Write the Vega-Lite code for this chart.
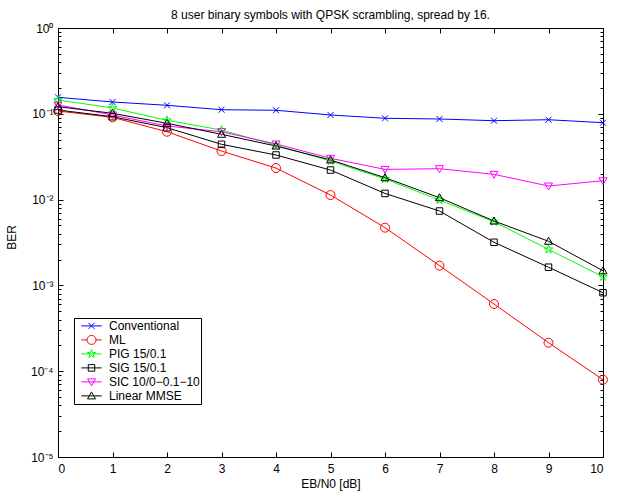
{
  "$schema": "https://vega.github.io/schema/vega-lite/v6.json",
  "width": 545,
  "height": 429,
  "autosize": {"type": "none"},
  "padding": {"left": 58, "top": 28, "right": 14, "bottom": 37},
  "background": "white",
  "title": {"text": "8 user binary symbols with QPSK scrambling, spread by 16.", "fontSize": 12, "fontWeight": "normal", "font": "Liberation Sans", "color": "black", "offset": 0, "anchor": "middle"},
  "config": {
    "view": {"stroke": "black", "strokeWidth": 1},
    "axis": {"grid": false, "domainColor": "black", "tickColor": "black", "labelColor": "black", "titleColor": "black", "labelFont": "Liberation Sans", "titleFont": "Liberation Sans", "labelFontSize": 12, "titleFontSize": 12, "titleFontWeight": "normal", "domainWidth": 1, "tickWidth": 1}
  },
  "data": {"values": [
    {"s": "Conventional", "x": 0, "ber": 0.1557}, {"s": "Conventional", "x": 1, "ber": 0.1373}, {"s": "Conventional", "x": 2, "ber": 0.1256}, {"s": "Conventional", "x": 3, "ber": 0.1116}, {"s": "Conventional", "x": 4, "ber": 0.1099}, {"s": "Conventional", "x": 5, "ber": 0.0969}, {"s": "Conventional", "x": 6, "ber": 0.0887}, {"s": "Conventional", "x": 7, "ber": 0.0870}, {"s": "Conventional", "x": 8, "ber": 0.0831}, {"s": "Conventional", "x": 9, "ber": 0.0853}, {"s": "Conventional", "x": 10, "ber": 0.0788},
    {"s": "ML", "x": 0, "ber": 0.1078}, {"s": "ML", "x": 1, "ber": 0.0910}, {"s": "ML", "x": 2, "ber": 0.0618}, {"s": "ML", "x": 3, "ber": 0.0368}, {"s": "ML", "x": 4, "ber": 0.0233}, {"s": "ML", "x": 5, "ber": 0.0113}, {"s": "ML", "x": 6, "ber": 0.00471}, {"s": "ML", "x": 7, "ber": 0.00170}, {"s": "ML", "x": 8, "ber": 0.000607}, {"s": "ML", "x": 9, "ber": 0.000215}, {"s": "ML", "x": 10, "ber": 0.0000796},
    {"s": "PIG 15/0.1", "x": 0, "ber": 0.1448}, {"s": "PIG 15/0.1", "x": 1, "ber": 0.1169}, {"s": "PIG 15/0.1", "x": 2, "ber": 0.0840}, {"s": "PIG 15/0.1", "x": 3, "ber": 0.0647}, {"s": "PIG 15/0.1", "x": 4, "ber": 0.0429}, {"s": "PIG 15/0.1", "x": 5, "ber": 0.0282}, {"s": "PIG 15/0.1", "x": 6, "ber": 0.0174}, {"s": "PIG 15/0.1", "x": 7, "ber": 0.00989}, {"s": "PIG 15/0.1", "x": 8, "ber": 0.00552}, {"s": "PIG 15/0.1", "x": 9, "ber": 0.00263}, {"s": "PIG 15/0.1", "x": 10, "ber": 0.00126},
    {"s": "SIG 15/0.1", "x": 0, "ber": 0.1107}, {"s": "SIG 15/0.1", "x": 1, "ber": 0.0925}, {"s": "SIG 15/0.1", "x": 2, "ber": 0.0689}, {"s": "SIG 15/0.1", "x": 3, "ber": 0.0441}, {"s": "SIG 15/0.1", "x": 4, "ber": 0.0331}, {"s": "SIG 15/0.1", "x": 5, "ber": 0.0221}, {"s": "SIG 15/0.1", "x": 6, "ber": 0.0118}, {"s": "SIG 15/0.1", "x": 7, "ber": 0.00736}, {"s": "SIG 15/0.1", "x": 8, "ber": 0.00318}, {"s": "SIG 15/0.1", "x": 9, "ber": 0.00163}, {"s": "SIG 15/0.1", "x": 10, "ber": 0.000822},
    {"s": "SIC 10/0−0.1−10", "x": 0, "ber": 0.1267}, {"s": "SIC 10/0−0.1−10", "x": 1, "ber": 0.0969}, {"s": "SIC 10/0−0.1−10", "x": 2, "ber": 0.0721}, {"s": "SIC 10/0−0.1−10", "x": 3, "ber": 0.0618}, {"s": "SIC 10/0−0.1−10", "x": 4, "ber": 0.0445}, {"s": "SIC 10/0−0.1−10", "x": 5, "ber": 0.0303}, {"s": "SIC 10/0−0.1−10", "x": 6, "ber": 0.0225}, {"s": "SIC 10/0−0.1−10", "x": 7, "ber": 0.0229}, {"s": "SIC 10/0−0.1−10", "x": 8, "ber": 0.0197}, {"s": "SIC 10/0−0.1−10", "x": 9, "ber": 0.0144}, {"s": "SIC 10/0−0.1−10", "x": 10, "ber": 0.0166},
    {"s": "Linear MMSE", "x": 0, "ber": 0.121}, {"s": "Linear MMSE", "x": 1, "ber": 0.1014}, {"s": "Linear MMSE", "x": 2, "ber": 0.0775}, {"s": "Linear MMSE", "x": 3, "ber": 0.0577}, {"s": "Linear MMSE", "x": 4, "ber": 0.0421}, {"s": "Linear MMSE", "x": 5, "ber": 0.0290}, {"s": "Linear MMSE", "x": 6, "ber": 0.0180}, {"s": "Linear MMSE", "x": 7, "ber": 0.01052}, {"s": "Linear MMSE", "x": 8, "ber": 0.00563}, {"s": "Linear MMSE", "x": 9, "ber": 0.00327}, {"s": "Linear MMSE", "x": 10, "ber": 0.00148}
  ]},
  "layer": [
    {
      "mark": {"type": "line", "strokeWidth": 1},
      "encoding": {
        "x": {"field": "x", "type": "quantitative", "scale": {"domain": [0, 10], "nice": false, "zero": false},
              "axis": {"orient": "bottom", "values": [0,1,2,3,4,5,6,7,8,9,10], "tickSize": -5, "labelPadding": 11, "title": "EB/N0 [dB]", "titlePadding": 4}},
        "y": {"field": "ber", "type": "quantitative", "scale": {"type": "log", "domain": [0.00001, 1], "nice": false},
              "axis": {"orient": "left", "values": [0.00001,0.00002,0.00003,0.00004,0.00005,0.00006,0.00007,0.00008,0.00009,0.0001,0.0002,0.0003,0.0004,0.0005,0.0006,0.0007,0.0008,0.0009,0.001,0.002,0.003,0.004,0.005,0.006,0.007,0.008,0.009,0.01,0.02,0.03,0.04,0.05,0.06,0.07,0.08,0.09,0.1,0.2,0.3,0.4,0.5,0.6,0.7,0.8,0.9,1],
                       "tickSize": {"condition": {"test": "abs(log(datum.value)/LN10 - round(log(datum.value)/LN10)) < 0.000001", "value": -5}, "value": -3},
                       "labelExpr": "abs(log(datum.value)/LN10 - round(log(datum.value)/LN10)) < 0.000001 ? '10' + ['⁰','⁻¹','⁻²','⁻³','⁻⁴','⁻⁵'][-round(log(datum.value)/LN10)] : ''",
                       "labelPadding": 10, "title": "BER", "titlePadding": 12, "titleY": 209}},
        "color": {"field": "s", "type": "nominal", "legend": null,
                  "scale": {"domain": ["Conventional", "ML", "PIG 15/0.1", "SIG 15/0.1", "SIC 10/0−0.1−10", "Linear MMSE"], "range": ["#0000ff", "#ff0000", "#00ff00", "#000000", "#ff00ff", "#000000"]}}
      }
    },
    {
      "mark": {"type": "point", "filled": false, "strokeWidth": 1, "size": 100, "opacity": 1},
      "encoding": {
        "x": {"field": "x", "type": "quantitative", "scale": {"domain": [0, 10], "nice": false, "zero": false},
              "axis": {"orient": "top", "values": [0,1,2,3,4,5,6,7,8,9,10], "tickSize": -5, "labels": false, "title": null}},
        "y": {"field": "ber", "type": "quantitative", "scale": {"type": "log", "domain": [0.00001, 1], "nice": false},
              "axis": {"orient": "right", "values": [0.00001,0.00002,0.00003,0.00004,0.00005,0.00006,0.00007,0.00008,0.00009,0.0001,0.0002,0.0003,0.0004,0.0005,0.0006,0.0007,0.0008,0.0009,0.001,0.002,0.003,0.004,0.005,0.006,0.007,0.008,0.009,0.01,0.02,0.03,0.04,0.05,0.06,0.07,0.08,0.09,0.1,0.2,0.3,0.4,0.5,0.6,0.7,0.8,0.9,1],
                       "tickSize": {"condition": {"test": "abs(log(datum.value)/LN10 - round(log(datum.value)/LN10)) < 0.000001", "value": -5}, "value": -3},
                       "labels": false, "title": null}},
        "color": {"field": "s", "type": "nominal", "legend": null,
                  "scale": {"domain": ["Conventional", "ML", "PIG 15/0.1", "SIG 15/0.1", "SIC 10/0−0.1−10", "Linear MMSE"], "range": ["#0000ff", "#ff0000", "#00ff00", "#000000", "#ff00ff", "#000000"]}},
        "shape": {"field": "s", "type": "nominal", "legend": null,
                  "scale": {"domain": ["Conventional", "ML", "PIG 15/0.1", "SIG 15/0.1", "SIC 10/0−0.1−10", "Linear MMSE"],
                            "range": ["M-0.6,-0.6L0.6,0.6M-0.6,0.6L0.6,-0.6", "M0.9,0A0.9,0.9 0 1,1 -0.9,0A0.9,0.9 0 1,1 0.9,0Z", "M0,-0.9L0.202,-0.278L0.856,-0.278L0.327,0.106L0.529,0.728L0,0.344L-0.529,0.728L-0.327,0.106L-0.856,-0.278L-0.202,-0.278Z", "M-0.65,-0.65H0.65V0.65H-0.65Z", "M-0.8,-0.6L0.8,-0.6L0,0.8Z", "M-0.8,0.6L0.8,0.6L0,-0.8Z"]}}
      }
    },
    {
      "transform": [{"filter": "false"}],
      "mark": {"type": "point", "filled": false, "strokeWidth": 1, "size": 1024, "opacity": 1},
      "encoding": {
        "color": {"field": "s", "type": "nominal",
                  "scale": {"domain": ["Conventional", "ML", "PIG 15/0.1", "SIG 15/0.1", "SIC 10/0−0.1−10", "Linear MMSE"], "range": ["#0000ff", "#ff0000", "#00ff00", "#000000", "#ff00ff", "#000000"]},
                  "legend": {"orient": "none", "legendX": 16, "legendY": 290, "title": null, "strokeColor": "black", "fillColor": "white", "padding": 1, "clipHeight": 13.8, "rowPadding": 0, "labelFont": "Liberation Sans", "labelFontSize": 12, "labelColor": "black", "symbolSize": 1024, "symbolStrokeWidth": 1, "labelOffset": 1, "cornerRadius": 0, "labelExpr": "datum.label + '   '"}},
        "shape": {"field": "s", "type": "nominal",
                  "scale": {"domain": ["Conventional", "ML", "PIG 15/0.1", "SIG 15/0.1", "SIC 10/0−0.1−10", "Linear MMSE"],
                            "range": ["M-0.634,0H0.634M-0.1875,-0.1875L0.1875,0.1875M-0.1875,0.1875L0.1875,-0.1875", "M-0.634,0H-0.281M0.281,0H0.634M0.281,0A0.281,0.281 0 1,1 -0.281,0A0.281,0.281 0 1,1 0.281,0Z", "M-0.634,0H0.634M0,-0.281L0.063,-0.087L0.2675,-0.087L0.102,0.033L0.165,0.2275L0,0.1075L-0.165,0.2275L-0.102,0.033L-0.2675,-0.087L-0.063,-0.087Z", "M-0.634,0H0.634M-0.203,-0.203H0.203V0.203H-0.203Z", "M-0.634,0H0.634M-0.25,-0.1875L0.25,-0.1875L0,0.25Z", "M-0.634,0H0.634M-0.25,0.1875L0.25,0.1875L0,-0.25Z"]},
                  "legend": {"orient": "none", "legendX": 16, "legendY": 290, "title": null, "strokeColor": "black", "fillColor": "white", "padding": 1, "clipHeight": 13.8, "rowPadding": 0, "labelFont": "Liberation Sans", "labelFontSize": 12, "labelColor": "black", "symbolSize": 1024, "symbolStrokeWidth": 1, "labelOffset": 1, "cornerRadius": 0, "labelExpr": "datum.label + '   '"}}
      }
    }
  ],
  "resolve": {"axis": {"x": "independent", "y": "independent"}, "scale": {"color": "independent", "shape": "independent"}}
}
